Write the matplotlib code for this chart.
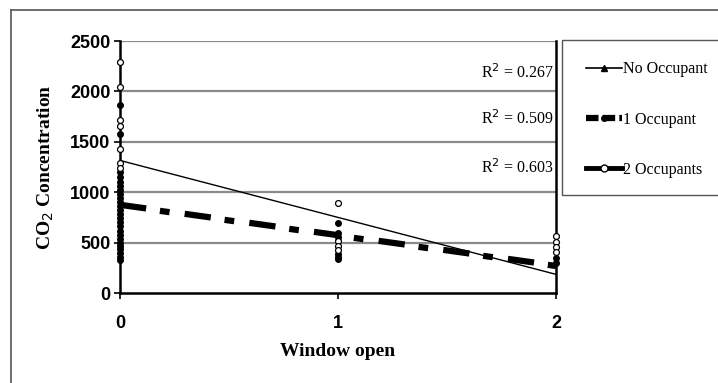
import matplotlib
matplotlib.use("Agg")
import matplotlib.pyplot as plt
from matplotlib.lines import Line2D
from matplotlib.patches import Rectangle

plt.rcParams['lines.scale_dashes'] = False

# scatter data (window open state -> CO2 concentration)
none_x = [0, 0, 0, 1, 1, 2]
none_y = [1000, 800, 600, 560, 400, 340]

one_x = [0] * 25 + [1] * 6 + [2] * 2
one_y = [1870, 1580, 1200, 1150, 1100, 1060, 1020, 980, 940, 900, 860, 820, 780,
         740, 700, 660, 620, 580, 540, 500, 470, 440, 400, 360, 330,
         690, 600, 560, 390, 360, 335,
         350, 300]

two_x = [0] * 7 + [1] * 4 + [2] * 4
two_y = [2290, 2040, 1720, 1660, 1430, 1290, 1240,
         895, 520, 470, 430,
         570, 505, 455, 405]

# linear trend lines (value at x=0, value at x=2)
trend_x = [0, 2]
trend_none = [1315, 185]
trend_one = [875, 272]
trend_two = [870, 268]
r2_labels = ['R$^2$ = 0.267', 'R$^2$ = 0.509', 'R$^2$ = 0.603']
r2_y = [2190, 1730, 1240]

serif = 'Liberation Serif'
sans = 'Liberation Sans'

fig = plt.figure(figsize=(7.18, 3.83), dpi=100)
ax = fig.add_axes([120 / 718, 90 / 383, 436 / 718, 252 / 383])

for v in [500, 1000, 1500, 2000, 2500]:
    ax.axhline(v, color='#8a8a8a', lw=1.6, zorder=0)

ax.plot(trend_x, trend_none, color='black', lw=1.0, zorder=3)
ax.plot(trend_x, trend_one, color='black', lw=4.5, zorder=3,
        linestyle=(0, (19, 28)), solid_capstyle='butt')
ax.plot(trend_x, trend_two, color='black', lw=4.5, zorder=3,
        linestyle=(-29, (7, 40)), solid_capstyle='butt')

ax.scatter(none_x, none_y, marker='^', s=10, color='black', zorder=4, clip_on=False)
ax.scatter(one_x, one_y, marker='o', s=16, color='black', zorder=5, clip_on=False)
ax.scatter(two_x, two_y, marker='o', s=18, facecolor='white', edgecolor='black',
           linewidths=0.9, zorder=6, clip_on=False)

for lab, yv in zip(r2_labels, r2_y):
    ax.text(1.99, yv, lab, ha='right', va='center', fontsize=11.5, family=serif, zorder=7)

ax.set_xlim(0, 2)
ax.set_ylim(0, 2500)
ax.set_xticks([0, 1, 2])
ax.set_yticks([0, 500, 1000, 1500, 2000, 2500])
for lbl in ax.get_xticklabels() + ax.get_yticklabels():
    lbl.set_family(sans)
    lbl.set_fontsize(13)
    lbl.set_fontweight('bold')
ax.tick_params(axis='both', direction='out', length=4, width=1.2, color='black')
ax.tick_params(axis='x', pad=12)
ax.tick_params(axis='y', pad=3)

ax.spines['top'].set_visible(False)
for s in ['left', 'bottom', 'right']:
    ax.spines[s].set_linewidth(1.8)
    ax.spines[s].set_color('black')

ax.set_xlabel('Window open', family=serif, fontsize=14, fontweight='bold', labelpad=8)
ax.set_ylabel('CO$_2$ Concentration', family=serif, fontsize=14, fontweight='bold', labelpad=10)

# legend box, running off the right edge like the scan
fig.add_artist(Rectangle((562 / 718, 188 / 383), 0.3, 155 / 383, transform=fig.transFigure,
                         facecolor='white', edgecolor='#555555', lw=1.0))
handles = [
    Line2D([], [], color='black', lw=1.2, marker='^', markersize=4),
    Line2D([], [], color='black', lw=4.5, linestyle=(0, (9, 3)), marker='o',
           markersize=4),
    Line2D([], [], color='black', lw=3.5, marker='o', markersize=5,
           markerfacecolor='white'),
]
fig.legend(handles, ['No Occupant', '1 Occupant', '2 Occupants'],
           loc='upper left', bbox_to_anchor=(572 / 718, 336 / 383),
           frameon=False, handlelength=2.2, handletextpad=0.1,
           labelspacing=2.14, prop={'family': serif, 'size': 11.5})

# outer chart frame
fig.add_artist(Line2D([11 / 718, 11 / 718], [0, 373 / 383], color='#555555', lw=1.2,
                      transform=fig.transFigure))
fig.add_artist(Line2D([11 / 718, 1], [373 / 383, 373 / 383], color='#555555', lw=1.2,
                      transform=fig.transFigure))

fig.savefig('out.png', dpi=100)
